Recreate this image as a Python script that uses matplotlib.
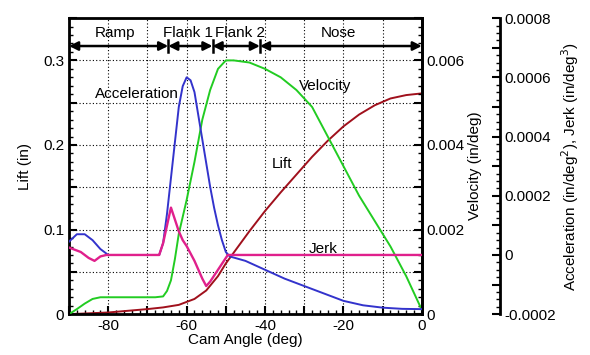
import matplotlib
matplotlib.use('Agg')
import matplotlib.pyplot as plt
from matplotlib.ticker import MultipleLocator, FuncFormatter

plt.rcParams['font.family'] = ['Liberation Sans', 'DejaVu Sans']
plt.rcParams['font.size'] = 11

# lift (in)
lift_deg = [-90, -85, -80, -75, -70, -66, -62, -58, -55, -52, -50, -47, -44, -40,
            -36, -32, -28, -24, -20, -16, -12, -8, -4, 0]
lift = [0.0, 0.001, 0.002, 0.004, 0.006, 0.008, 0.011, 0.018, 0.028, 0.045, 0.060,
        0.079, 0.098, 0.122, 0.144, 0.165, 0.186, 0.205, 0.222, 0.236, 0.247, 0.255,
        0.259, 0.261]

# velocity (in/deg)
vel_deg = [-90, -88, -86, -84, -82, -75, -68, -66, -65, -64, -63, -62, -61, -60,
           -58, -56, -54, -52, -50, -48, -44, -40, -36, -32, -28, -24, -20, -16,
           -12, -8, -4, 0]
vel = [0.0, 0.00012, 0.00025, 0.00036, 0.0004, 0.0004, 0.0004, 0.00042, 0.00055,
       0.0008, 0.0013, 0.0019, 0.0023, 0.0027, 0.0036, 0.0046, 0.0053, 0.0058,
       0.006, 0.006, 0.00595, 0.0058, 0.0056, 0.0053, 0.0049, 0.0042, 0.0035,
       0.0028, 0.0022, 0.0016, 0.0009, 0.0001]

# acceleration (in/deg^2)
acc_deg = [-90, -88, -86, -84, -82, -80, -67, -66, -65, -64, -63, -62, -61, -60,
           -59, -58, -57, -56, -55, -54, -53, -52, -51, -50, -49, -45, -40, -35,
           -30, -25, -20, -15, -10, -5, 0]
acc = [0.000045, 0.00007, 0.00007, 0.00005, 0.00002, 0.0, 0.0, 0.00004, 0.00014,
       0.00026, 0.00038, 0.0005, 0.00057, 0.0006, 0.00059, 0.00055, 0.00047,
       0.00039, 0.00031, 0.00023, 0.00016, 0.0001, 0.00005, 0.00001, -0.000005,
       -0.00002, -0.00005, -0.00008, -0.000105, -0.00013, -0.000155, -0.00017,
       -0.000178, -0.000182, -0.000183]

# jerk (in/deg^3)
jerk_deg = [-90, -87, -85, -83.5, -82, -80.5, -67, -66, -65, -64, -63, -62, -61,
            -60, -58, -56, -55, -54, -52, -50, -49.5, 0]
jerk = [0.000025, 0.00001, -0.00001, -0.00002, -0.000005, 0.0, 0.0, 0.00004,
        0.0001, 0.00016, 0.00012, 0.00008, 0.00005, 0.00003, -0.00002, -0.00008,
        -0.000105, -0.00009, -0.00005, -0.00001, 0.0, 0.0]

seg_edges = [-90, -64.7, -53.4, -41.3, 0]
seg_names = ['Ramp', 'Flank 1', 'Flank 2', 'Nose']
seg_text_x = [-78.3, -59.6, -46.4, -21.4]

c_lift = '#a0101c'
c_vel = '#22cc22'
c_acc = '#3333cc'
c_jerk = '#e0208c'

fig = plt.figure(figsize=(5.9, 3.55), dpi=100)
ax = fig.add_axes([0.117, 0.115, 0.598, 0.834])
ax2 = ax.twinx()
ax3 = ax.twinx()
ax3.spines['right'].set_position(('axes', 1.221))
for s in ['top', 'bottom', 'left']:
    ax3.spines[s].set_visible(False)

ax.plot(lift_deg, lift, color=c_lift, lw=1.4)
ax2.plot(vel_deg, vel, color=c_vel, lw=1.4)
ax3.plot(acc_deg, acc, color=c_acc, lw=1.4)
ax3.plot(jerk_deg, jerk, color=c_jerk, lw=1.7)

ax.set_xlim(-90, 0)
ax.set_ylim(0, 0.35)
ax2.set_ylim(0, 0.007)
ax3.set_ylim(-0.0002, 0.0008)

ax.xaxis.set_major_locator(MultipleLocator(10))
ax.xaxis.set_minor_locator(MultipleLocator(2))
ax.xaxis.set_major_formatter(FuncFormatter(lambda v, p: '%d' % v if round(v) % 20 == 0 else ''))
ax.yaxis.set_major_locator(MultipleLocator(0.05))
ax.yaxis.set_minor_locator(MultipleLocator(0.01))
ax.yaxis.set_major_formatter(FuncFormatter(lambda v, p: ('%g' % round(v, 2)) if abs(v * 10 - round(v * 10)) < 1e-6 else ''))
ax2.yaxis.set_major_locator(MultipleLocator(0.001))
ax2.yaxis.set_minor_locator(MultipleLocator(0.0002))
ax2.yaxis.set_major_formatter(FuncFormatter(lambda v, p: ('%g' % round(v, 4)) if round(v * 1000) % 2 == 0 else ''))
ax3.yaxis.set_major_locator(MultipleLocator(0.0001))
ax3.yaxis.set_minor_locator(MultipleLocator(0.000025))
ax3.yaxis.set_major_formatter(FuncFormatter(lambda v, p: ('%g' % round(v, 5)) if round(v * 10000) % 2 == 0 else ''))

ax.grid(True, which='major', color='k', linestyle=(0, (1, 2)), linewidth=0.8)
ax.tick_params(axis='both', which='both', direction='in', top=False, right=False)
ax.tick_params(which='major', length=6, width=1.5)
ax.tick_params(which='minor', length=3, width=1)
for a in [ax2, ax3]:
    a.tick_params(which='both', direction='in')
    a.tick_params(which='major', length=6, width=1.5)
    a.tick_params(which='minor', length=3, width=1)
for s in ax.spines.values():
    s.set_linewidth(2)
ax2.spines['right'].set_linewidth(2)
ax3.spines['right'].set_linewidth(2)

ax.set_xlabel('Cam Angle (deg)', labelpad=0)
ax.set_ylabel('Lift (in)', labelpad=8)
ax2.set_ylabel('Velocity (in/deg)', labelpad=2)
ax3.set_ylabel('Acceleration (in/deg$^2$), Jerk (in/deg$^3$)', labelpad=2)

# region arrows on top
y_arr = 0.317
for i in range(len(seg_names)):
    ax.annotate('', xy=(seg_edges[i + 1], y_arr), xytext=(seg_edges[i], y_arr),
                arrowprops=dict(arrowstyle='<|-|>', color='k', lw=1.8,
                                mutation_scale=13, shrinkA=0, shrinkB=0))
    ax.text(seg_text_x[i], 0.332, seg_names[i], ha='center', va='center')
for e in seg_edges[1:-1]:
    ax.plot([e, e], [y_arr - 0.007, y_arr + 0.007], color='k', lw=1.8)

ax.text(-72.7, 0.26, 'Acceleration', ha='center', va='center')
ax.text(-24.7, 0.27, 'Velocity', ha='center', va='center')
ax.text(-35.7, 0.178, 'Lift', ha='center', va='center')
ax.text(-25.2, 0.077, 'Jerk', ha='center', va='center')

fig.savefig('out.png', dpi=100)
